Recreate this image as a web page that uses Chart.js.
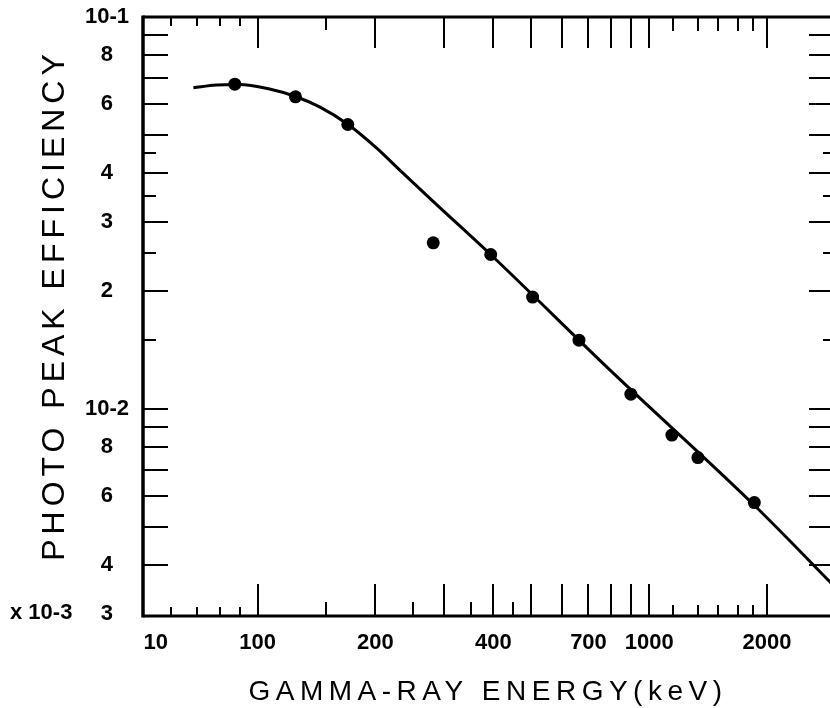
<!DOCTYPE html>
<html><head><meta charset="utf-8">
<script src="https://cdn.jsdelivr.net/npm/chart.js@4"></script>
<style>html,body{margin:0;padding:0;background:#fff;overflow:hidden;width:830px;height:708px}canvas{display:block}</style>
</head><body>
<canvas id="c" width="850" height="708" style="width:850px;height:708px"></canvas>
<script>
// Measured photo-peak efficiencies (energy in keV)
const measEnergy = [87.5, 125, 170, 281, 394, 504, 662, 898, 1143, 1332, 1856];
const measEff = [0.0674, 0.0626, 0.0532, 0.02656, 0.0248, 0.01931, 0.0150, 0.01092, 0.00859, 0.00753, 0.00578];
// Fitted efficiency curve
const curveEnergy = [68.6, 78.5, 89.9, 107.3, 125, 144, 170, 201.5, 230.8, 280.3, 393.7, 794.8, 1856, 3000];
const curveEff = [0.0660, 0.0671, 0.0673, 0.0655, 0.0627, 0.0590, 0.0533, 0.04632, 0.04072, 0.03393, 0.0248, 0.01258, 0.00569, 0.00350];
// Axis labels
const xTickValues = [55, 100, 200, 400, 700, 1000, 2000];
const xTickLabels = ['10', '100', '200', '400', '700', '1000', '2000'];
const yTickValues = [0.1, 0.08, 0.06, 0.04, 0.03, 0.02, 0.01, 0.008, 0.006, 0.004, 0.003];
const yTickLabels = ['10-1', '8', '6', '4', '3', '2', '10-2', '8', '6', '4', '3'];
// Tick marks
const xLongTicks = [100, 200, 300, 400, 500, 600, 700, 800, 900, 1000, 2000];
const xShortTicksLow = [60, 70, 80, 90];
const xShortTicksHigh = [1150, 1330, 1500, 1690, 1840];
const xMidTicksBottom = [150, 250, 350, 450];
const xMidTicksTop = [150];
const yLongTicks = [0.09, 0.08, 0.07, 0.06, 0.05, 0.04, 0.03, 0.02, 0.01, 0.009, 0.008, 0.007, 0.006, 0.005, 0.004];
const yShortTicks = [0.045, 0.035, 0.025, 0.015];

const FONT = '"Liberation Sans", Arial, Helvetica, sans-serif';

const framePlugin = {
  id: 'frame',
  afterDatasetsDraw(chart) {
    const {ctx, chartArea: a, scales: {x, y}} = chart;
    ctx.save();
    ctx.strokeStyle = '#000';
    ctx.lineCap = 'butt';
    ctx.lineWidth = 2;
    const xt = (vals, lb, lt) => vals.forEach(v => {
      const px = Math.round(x.getPixelForValue(v));
      if (lb) { ctx.beginPath(); ctx.moveTo(px, a.bottom); ctx.lineTo(px, a.bottom - lb); ctx.stroke(); }
      if (lt) { ctx.beginPath(); ctx.moveTo(px, a.top); ctx.lineTo(px, a.top + lt); ctx.stroke(); }
    });
    xt(xLongTicks, 32, 31);
    xt(xShortTicksLow, 9, 9);
    xt(xShortTicksHigh, 11, 14);
    xt(xMidTicksBottom, 14, 0);
    xt(xMidTicksTop, 0, 13);
    const yt = (vals, ll, lr) => vals.forEach(v => {
      const py = Math.round(y.getPixelForValue(v));
      ctx.beginPath(); ctx.moveTo(a.left, py); ctx.lineTo(a.left + ll, py); ctx.stroke();
      ctx.beginPath(); ctx.moveTo(a.right, py); ctx.lineTo(a.right - lr, py); ctx.stroke();
    });
    yt(yLongTicks, 25, 27);
    yt(yShortTicks, 13, 13);
    // frame
    ctx.lineWidth = 3.5;
    ctx.beginPath(); ctx.moveTo(a.left, a.top - 1.5); ctx.lineTo(a.left, a.bottom + 1.5); ctx.stroke();
    ctx.lineWidth = 3;
    ctx.beginPath(); ctx.moveTo(a.left, a.bottom); ctx.lineTo(a.right, a.bottom); ctx.stroke();
    ctx.beginPath(); ctx.moveTo(a.left, a.top); ctx.lineTo(a.right, a.top); ctx.stroke();
    ctx.beginPath(); ctx.moveTo(a.right, a.top); ctx.lineTo(a.right, a.bottom); ctx.stroke();
    ctx.restore();
  },
  afterDraw(chart) {
    const {ctx} = chart;
    ctx.save();
    ctx.fillStyle = '#000';
    // multiplier label
    ctx.font = 'bold 22px ' + FONT;
    ctx.textAlign = 'left';
    ctx.textBaseline = 'alphabetic';
    ctx.fillText('x 10-3', 10, 619);
    // x title
    ctx.font = '28px ' + FONT;
    ctx.letterSpacing = '5.5px';
    ctx.textAlign = 'center';
    ctx.fillText('GAMMA-RAY ENERGY(keV)', 488, 700);
    // y title
    ctx.font = '32px ' + FONT;
    ctx.letterSpacing = '5px';
    ctx.translate(64, 305);
    ctx.rotate(-Math.PI / 2);
    ctx.fillText('PHOTO PEAK EFFICIENCY', 0, 0);
    ctx.restore();
  }
};

const tickFont = {family: FONT, size: 22, weight: 'bold'};

new Chart(document.getElementById('c'), {
  type: 'scatter',
  data: {
    datasets: [
      {
        label: 'measured',
        data: measEnergy.map((e, i) => ({x: e, y: measEff[i]})),
        showLine: false,
        pointRadius: 6.5,
        pointBackgroundColor: '#000',
        pointBorderColor: '#000',
        pointBorderWidth: 0
      },
      {
        label: 'fit',
        data: curveEnergy.map((e, i) => ({x: e, y: curveEff[i]})),
        showLine: true,
        borderColor: '#000',
        borderWidth: 3,
        pointRadius: 0,
        cubicInterpolationMode: 'monotone'
      }
    ]
  },
  options: {
    responsive: false,
    devicePixelRatio: 1,
    animation: false,
    layout: {padding: {top: 17, right: 14, left: 0, bottom: 0}},
    plugins: {legend: {display: false}, tooltip: {enabled: false}},
    scales: {
      x: {
        type: 'logarithmic', position: 'bottom', min: 51, max: 3000, bounds: 'data',
        grid: {display: false, drawTicks: false},
        border: {display: false},
        afterBuildTicks: s => { s.ticks = xTickValues.map(v => ({value: v})); },
        afterFit: s => { s.height = 92; s.paddingLeft = 0; s.paddingRight = 0; },
        ticks: {
          autoSkip: false, maxRotation: 0, minRotation: 0, padding: 14, color: '#000',
          font: tickFont,
          callback: (v, i) => xTickLabels[i]
        }
      },
      y: {
        type: 'logarithmic', position: 'left', min: 0.00297, max: 0.1, bounds: 'data',
        grid: {display: false, drawTicks: false},
        border: {display: false},
        afterBuildTicks: s => { s.ticks = yTickValues.map(v => ({value: v})); },
        afterFit: s => { s.width = 143; s.paddingTop = 0; s.paddingBottom = 0; },
        ticks: {
          autoSkip: false, crossAlign: 'center', padding: 14, color: '#000',
          font: tickFont,
          callback: (v, i) => yTickLabels[i]
        }
      }
    }
  },
  plugins: [framePlugin]
});
</script>
</body></html>
